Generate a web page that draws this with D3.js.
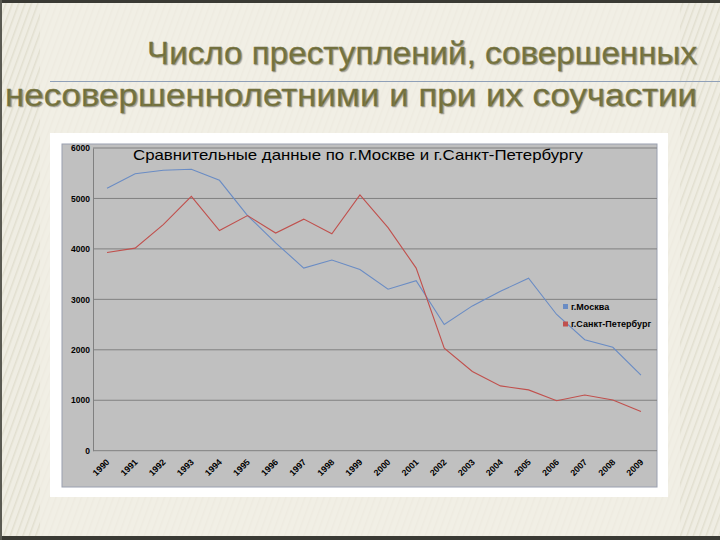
<!DOCTYPE html>
<html>
<head>
<meta charset="utf-8">
<script src="https://cdn.jsdelivr.net/npm/d3@7"></script>
<style>
  body { margin: 0; background: #efede3; }
  svg { display: block; }
</style>
</head>
<body>
<div id="Area"></div>
<script>
// data
var years = ["1990","1991","1992","1993","1994","1995","1996","1997","1998","1999",
             "2000","2001","2002","2003","2004","2005","2006","2007","2008","2009"];
var moscow = [5200,5490,5560,5580,5360,4660,4120,3620,3780,3590,
              3200,3370,2500,2870,3160,3420,2700,2200,2050,1500];
var spb = [3930,4015,4480,5040,4365,4660,4315,4590,4300,5070,
           4420,3620,2030,1570,1285,1205,990,1105,1005,775];
var yTicks = [0,1000,2000,3000,4000,5000,6000];
var seriesNames = ["г.Москва", "г.Санкт-Петербург"];
var seriesColors = ["#6a8cc4", "#c0504d"];

var W = 720, H = 540;

var svg = d3.select("#Area")
  .append("svg")
    .attr("width", W)
    .attr("height", H);

// striped slide background
var defs = svg.append("defs");
var pat = defs.append("pattern")
    .attr("id", "stripes")
    .attr("width", 6).attr("height", 6)
    .attr("patternUnits", "userSpaceOnUse")
    .attr("patternTransform", "rotate(20)");
pat.append("rect").attr("width", 6).attr("height", 6).attr("fill", "#efede3");
pat.append("rect").attr("width", 1.5).attr("height", 6).attr("fill", "#e2dfd0");

svg.append("rect").attr("width", W).attr("height", H).attr("fill", "url(#stripes)");
svg.append("rect").attr("x", 40).attr("y", 0).attr("width", 640).attr("height", H)
  .attr("fill", "#f1efe6").attr("opacity", 0.75);
svg.append("rect").attr("width", W).attr("height", 3).attr("fill", "#3a3a34");
svg.append("rect").attr("y", 536).attr("width", W).attr("height", 4).attr("fill", "#3a3a34");
svg.append("rect").attr("width", 2).attr("height", H).attr("fill", "#5a5a52");

// slide title
var titleFont = "'Liberation Sans', Arial, sans-serif";
svg.append("text")
  .attr("x", 697).attr("y", 64)
  .attr("text-anchor", "end")
  .attr("textLength", 550).attr("lengthAdjust", "spacingAndGlyphs")
  .attr("font-family", titleFont).attr("font-size", 31)
  .attr("fill", "#7a7843")
  .attr("stroke", "#7a7843").attr("stroke-width", 0.35)
  .style("text-shadow", "1px 1px 1px rgba(0,0,0,0.3)")
  .text("Число преступлений, совершенных");
svg.append("line")
  .attr("x1", 50).attr("x2", W).attr("y1", 81.5).attr("y2", 81.5)
  .attr("stroke", "#8fa0b8").attr("stroke-width", 1.2);
svg.append("text")
  .attr("x", 697).attr("y", 106)
  .attr("text-anchor", "end")
  .attr("textLength", 692).attr("lengthAdjust", "spacingAndGlyphs")
  .attr("font-family", titleFont).attr("font-size", 31)
  .attr("fill", "#7a7843")
  .attr("stroke", "#7a7843").attr("stroke-width", 0.35)
  .style("text-shadow", "1px 1px 1px rgba(0,0,0,0.3)")
  .text("несовершеннолетними и при их соучастии");

// chart box
svg.append("rect")
  .attr("x", 50).attr("y", 133).attr("width", 618).attr("height", 364)
  .attr("fill", "#ffffff");
svg.append("rect")
  .attr("x", 62).attr("y", 144).attr("width", 595).attr("height", 343)
  .attr("fill", "#c0c0c0")
  .attr("stroke", "#9aa0b0").attr("stroke-width", 1);

var x = d3.scaleBand()
    .domain(years)
    .range([93, 655]);
var y = d3.scaleLinear()
    .domain([0, 6000])
    .range([450.7, 148]);

// gridlines
svg.append("g")
  .selectAll("line")
  .data(yTicks.slice(1))
  .enter()
  .append("line")
    .attr("x1", 93).attr("x2", 657)
    .attr("y1", function(d){ return y(d) })
    .attr("y2", function(d){ return y(d) })
    .attr("stroke", "#808080").attr("stroke-width", 1);

// y axis
var yAxis = svg.append("g")
  .attr("transform", "translate(93,0)")
  .call(d3.axisLeft(y).tickValues(yTicks).tickFormat(d3.format("d")).tickSize(0).tickPadding(3));
yAxis.select(".domain").attr("stroke", "#808080");
yAxis.selectAll("text")
  .attr("font-family", "Arial, 'Liberation Sans', sans-serif")
  .attr("font-size", 8.5).attr("font-weight", "bold").attr("fill", "#000");

// x axis
var xAxis = svg.append("g")
  .attr("transform", "translate(0," + y(0) + ")")
  .call(d3.axisBottom(x).tickSize(0).tickPadding(0));
xAxis.select(".domain").attr("stroke", "#808080").attr("d", "M93,0H657");
xAxis.selectAll("text")
  .attr("font-family", "Arial, 'Liberation Sans', sans-serif")
  .attr("font-size", 8.8).attr("font-weight", "bold").attr("fill", "#000")
  .attr("text-anchor", "end")
  .attr("dy", 0)
  .attr("transform", "translate(3,12) rotate(-45)");

// chart title
svg.append("text")
  .attr("x", 133).attr("y", 160)
  .attr("textLength", 450).attr("lengthAdjust", "spacingAndGlyphs")
  .attr("font-family", "Arial, 'Liberation Sans', sans-serif")
  .attr("font-size", 14.5).attr("fill", "#000")
  .text("Сравнительные данные по г.Москве и г.Санкт-Петербургу");

// lines
var line = d3.line()
  .x(function(d, i){ return x(years[i]) + x.bandwidth() / 2 })
  .y(function(d){ return y(d) });

svg.selectAll(".line")
  .data([moscow, spb])
  .enter()
  .append("path")
  .classed("line", true)
  .attr("d", line)
  .attr("stroke", function(d, i){ return seriesColors[i] })
  .attr("stroke-width", 1.1)
  .attr("fill", "none");

// legend
var leg = svg.selectAll(".leg")
  .data(seriesNames)
  .enter()
  .append("g")
  .classed("leg", true)
  .attr("transform", function(d, i){ return "translate(563," + (304 + i * 17.5) + ")" });
leg.append("rect")
  .attr("width", 5).attr("height", 5)
  .attr("fill", function(d, i){ return seriesColors[i] });
leg.append("text")
  .attr("x", 8).attr("y", 5.5)
  .attr("font-family", "'Liberation Sans Narrow', Arial, sans-serif")
  .attr("font-size", 9).attr("font-weight", "bold").attr("fill", "#000")
  .text(function(d){ return d });
</script>
</body>
</html>
